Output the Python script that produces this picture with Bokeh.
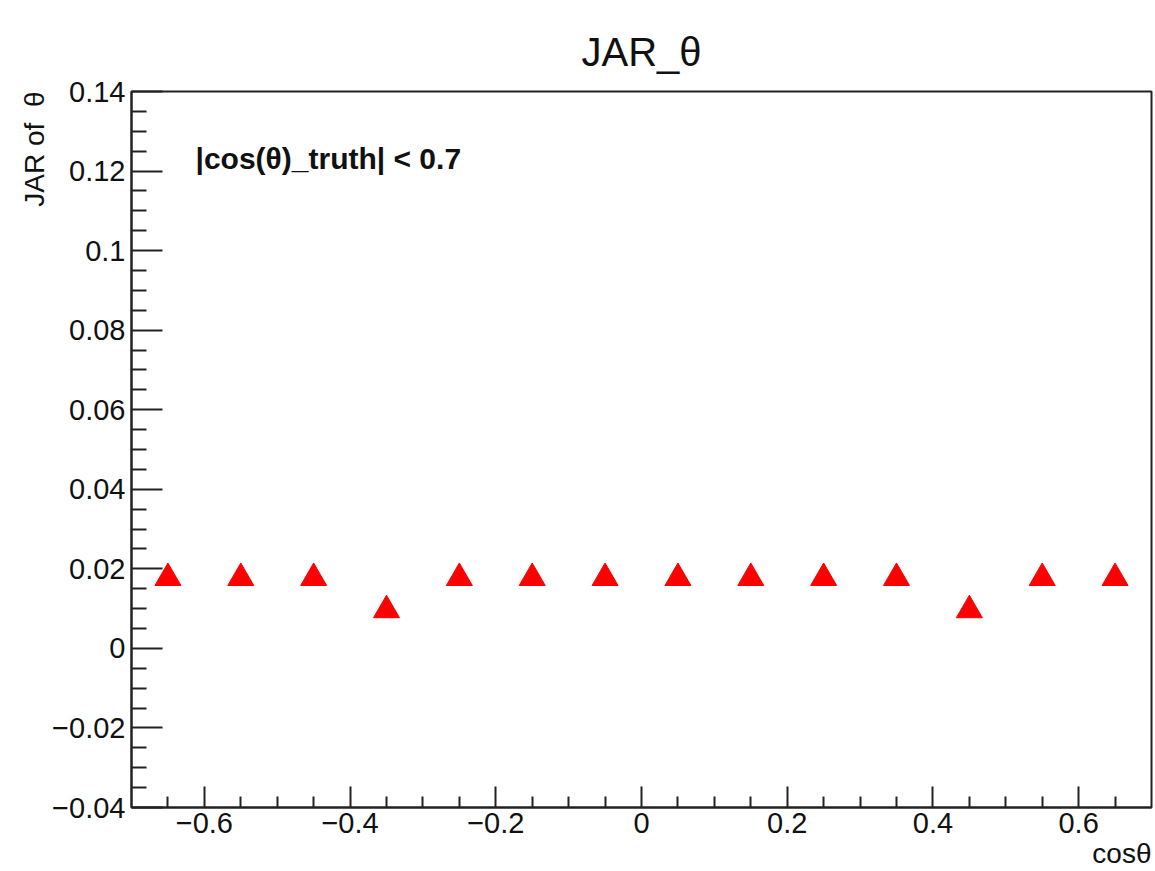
from bokeh.embed import file_html
from bokeh.models import (ColumnDataSource, CustomJSTickFormatter, FixedTicker,
                          Label, Range1d, Title)
from bokeh.plotting import figure
from bokeh.resources import INLINE

# Bin centres in cos(theta) and the JAR value of theta in each bin
cos_theta = [-0.65, -0.55, -0.45, -0.35, -0.25, -0.15, -0.05,
             0.05, 0.15, 0.25, 0.35, 0.45, 0.55, 0.65]
jar_theta = [0.0177, 0.0177, 0.0177, 0.0096, 0.0177, 0.0177, 0.0177,
             0.0177, 0.0177, 0.0177, 0.0177, 0.0096, 0.0177, 0.0177]

x_ticks = [-0.6, -0.4, -0.2, 0, 0.2, 0.4, 0.6]
x_minor = [-0.65, -0.55, -0.5, -0.45, -0.35, -0.3, -0.25, -0.15, -0.1, -0.05,
           0.05, 0.1, 0.15, 0.25, 0.3, 0.35, 0.45, 0.5, 0.55, 0.65]
y_ticks = [-0.04, -0.02, 0, 0.02, 0.04, 0.06, 0.08, 0.1, 0.12, 0.14]
y_minor = [-0.035, -0.03, -0.025, -0.015, -0.01, -0.005,
           0.005, 0.01, 0.015, 0.025, 0.03, 0.035, 0.045, 0.05, 0.055,
           0.065, 0.07, 0.075, 0.085, 0.09, 0.095, 0.105, 0.11, 0.115,
           0.125, 0.13, 0.135]

FONT = "Liberation Sans"
INK = "#111111"
LINE = "#222222"

p = figure(width=1155, height=871, output_backend="svg", toolbar_location=None,
           x_range=Range1d(-0.7, 0.7), y_range=Range1d(-0.04, 0.14),
           min_border_left=131, min_border_right=4,
           min_border_top=91, min_border_bottom=64)
p.background_fill_color = "white"
p.border_fill_color = "white"
p.grid.visible = False
p.outline_line_color = LINE
p.outline_line_width = 2

fmt = CustomJSTickFormatter(code="""
    const s = (Math.round(tick * 1000) / 1000).toString();
    return s.replace('-', '\\u2212');
""")

xa = p.xaxis[0]
xa.ticker = FixedTicker(ticks=x_ticks, minor_ticks=x_minor)
xa.formatter = fmt
xa.axis_line_color = LINE
xa.axis_line_width = 2
xa.major_tick_in = 21
xa.major_tick_out = 0
xa.minor_tick_in = 11
xa.minor_tick_out = 0
xa.major_tick_line_width = 2
xa.minor_tick_line_width = 2
xa.major_tick_line_color = LINE
xa.minor_tick_line_color = LINE
xa.major_label_text_font = FONT
xa.major_label_text_font_size = "29px"
xa.major_label_text_color = INK
xa.major_label_standoff = 5

ya = p.yaxis[0]
ya.ticker = FixedTicker(ticks=y_ticks, minor_ticks=y_minor)
ya.formatter = fmt
ya.axis_line_color = LINE
ya.axis_line_width = 2
ya.major_tick_in = 31
ya.major_tick_out = 0
ya.minor_tick_in = 15
ya.minor_tick_out = 0
ya.major_tick_line_width = 2
ya.minor_tick_line_width = 2
ya.major_tick_line_color = LINE
ya.minor_tick_line_color = LINE
ya.major_label_text_font = FONT
ya.major_label_text_font_size = "29px"
ya.major_label_text_color = INK
ya.major_label_standoff = 6

src = ColumnDataSource(data=dict(x=cos_theta, y=jar_theta))
p.scatter("x", "y", source=src, marker="triangle", size=26,
          fill_color="#ff0000", line_color="#ff0000", line_width=1)

# Selection cut written inside the frame
p.add_layout(Label(x=-0.7, y=0.14, x_offset=64, y_offset=-67,
                   text="|cos(θ)_truth| < 0.7", text_font=FONT,
                   text_font_size="30px", text_font_style="bold",
                   text_color=INK, text_align="left",
                   text_baseline="alphabetic"))

# Plot title, centred over the frame
p.add_layout(Title(text="JAR_θ", align="center", text_font=FONT,
                   text_font_size="40px", text_font_style="normal",
                   text_color=INK, standoff=36), "above")

# Axis titles, aligned to the far ends of the axes
p.add_layout(Title(text="cosθ", align="right", text_font=FONT,
                   text_font_size="28px", text_font_style="normal",
                   text_color=INK, standoff=0), "below")
p.add_layout(Title(text="JAR of\u00a0\u00a0θ", align="right", text_font=FONT,
                   text_font_size="28px", text_font_style="normal",
                   text_color=INK, standoff=0), "left")

open("out.html", "w").write(file_html(p, INLINE))
